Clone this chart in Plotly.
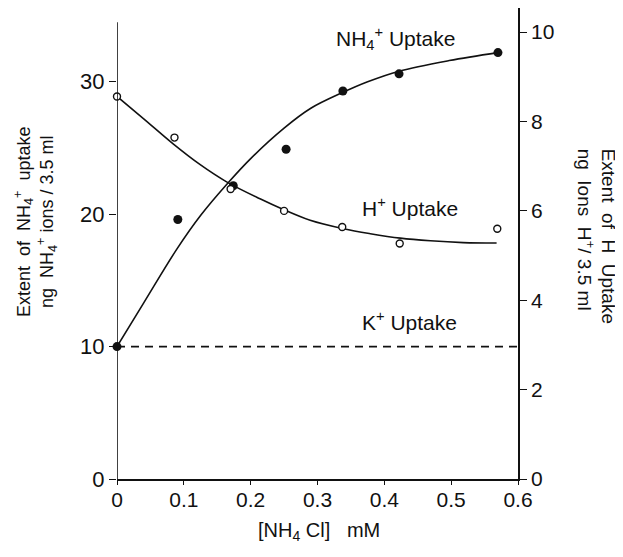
import plotly.graph_objects as go

# NH4+ uptake (left axis), filled circles
nh4_x = [0.0, 0.091, 0.174, 0.253, 0.338, 0.422, 0.570]
nh4_y = [10.0, 19.6, 22.15, 24.9, 29.3, 30.6, 32.2]
# smooth fitted curve for NH4+
nh4_curve_x = [0.0, 0.04, 0.09, 0.125, 0.165, 0.2, 0.25, 0.29, 0.338, 0.375, 0.422, 0.497, 0.570]
nh4_curve_y = [10.0, 13.3, 17.4, 19.9, 22.3, 24.2, 26.5, 28.0, 29.2, 30.0, 30.8, 31.6, 32.2]

# H+ uptake (right axis), open circles
h_x = [0.0, 0.086, 0.170, 0.250, 0.337, 0.423, 0.569]
h_y = [8.56, 7.64, 6.49, 6.0, 5.64, 5.27, 5.60]
h_curve_x = [0.0, 0.04, 0.084, 0.124, 0.164, 0.214, 0.249, 0.289, 0.339, 0.379, 0.424, 0.469, 0.518, 0.568]
h_curve_y = [8.56, 8.06, 7.50, 7.04, 6.65, 6.27, 6.03, 5.79, 5.60, 5.49, 5.39, 5.33, 5.29, 5.28]

# K+ uptake (left axis), dashed
k_x = [0.0, 0.6]
k_y = [10.0, 10.0]

x_ticks = [0, 0.1, 0.2, 0.3, 0.4, 0.5, 0.6]
x_labels = ["0", "0.1", "0.2", "0.3", "0.4", "0.5", "0.6"]
left_ticks = [0, 10, 20, 30]
right_ticks = [0, 2, 4, 6, 8, 10]

FONT = "Liberation Sans"
black = "#111111"

fig = go.Figure()
fig.add_trace(go.Scatter(x=k_x, y=k_y, mode="lines",
                         line=dict(color=black, width=1.6, dash="8px,6px"),
                         showlegend=False, yaxis="y"))
fig.add_trace(go.Scatter(x=nh4_curve_x, y=nh4_curve_y, mode="lines", line_shape="spline",
                         line=dict(color=black, width=1.6), showlegend=False, yaxis="y"))
fig.add_trace(go.Scatter(x=nh4_x, y=nh4_y, mode="markers",
                         marker=dict(size=9, color=black, symbol="circle"),
                         showlegend=False, yaxis="y", cliponaxis=False))
fig.add_trace(go.Scatter(x=h_curve_x, y=h_curve_y, mode="lines", line_shape="spline",
                         line=dict(color=black, width=1.6), showlegend=False, yaxis="y2"))
fig.add_trace(go.Scatter(x=h_x, y=h_y, mode="markers",
                         marker=dict(size=7, color="white", symbol="circle",
                                     line=dict(color=black, width=1.4)),
                         showlegend=False, yaxis="y2", cliponaxis=False))

fig.update_layout(
    width=623, height=557,
    margin=dict(l=109, r=113, t=0, b=86),
    paper_bgcolor="white", plot_bgcolor="white",
    font=dict(family=FONT, color=black, size=21),
    xaxis=dict(range=[0, 0.6], tickvals=x_ticks, ticktext=x_labels,
               showgrid=False, zeroline=False, showline=True, linecolor=black, linewidth=1.6,
               ticks="outside", ticklen=4, tickwidth=1.4, tickcolor=black,
               ticklabelstandoff=-3,
               tickfont=dict(size=21, family=FONT)),
    yaxis=dict(range=[0, 35.57], tickvals=left_ticks,
               showgrid=False, zeroline=False, showline=False,
               ticks="outside", ticklen=7, tickwidth=1.4, tickcolor=black,
               tickfont=dict(size=22, family=FONT)),
    yaxis2=dict(range=[0, 10.54], tickvals=right_ticks, overlaying="y", side="right",
                anchor="x", showgrid=False, zeroline=False, showline=True,
                linecolor=black, linewidth=1.6,
                ticks="outside", ticklen=7, tickwidth=1.4, tickcolor=black,
                tickfont=dict(size=21, family=FONT)),
    shapes=[dict(type="line", xref="x", yref="y", x0=0, x1=0, y0=0, y1=34.5,
                 line=dict(color=black, width=1.6))],
    annotations=[
        dict(text="NH<sub>4</sub><sup>+</sup> Uptake", x=0.416, y=33.3, xref="x", yref="y",
             xanchor="center", yanchor="middle",
             showarrow=False, font=dict(size=21, family=FONT)),
        dict(text="H<sup>+</sup> Uptake", x=0.4386, y=20.57, xref="x", yref="y",
             xanchor="center", yanchor="middle",
             showarrow=False, font=dict(size=21, family=FONT)),
        dict(text="K<sup>+</sup> Uptake", x=0.437, y=11.9, xref="x", yref="y",
             xanchor="center", yanchor="middle",
             showarrow=False, font=dict(size=21, family=FONT)),
        dict(text="[NH<sub>4</sub> Cl]&nbsp;&nbsp;&nbsp;mM", x=0.504, y=-0.1125,
             xref="paper", yref="paper", xanchor="center", yanchor="middle",
             showarrow=False, font=dict(size=20, family=FONT)),
        dict(text="Extent&nbsp;&nbsp;of&nbsp;&nbsp;NH<sub>4</sub><sup>+</sup>&nbsp;&nbsp;uptake<br>ng&nbsp;&nbsp;NH<sub>4</sub><sup>+</sup> ions / 3.5 ml",
             x=-0.2045, y=0.5456, xref="paper", yref="paper", textangle=-90,
             xanchor="center", yanchor="middle",
             showarrow=False, font=dict(size=18, family=FONT), align="center"),
        dict(text="Extent&nbsp;&nbsp;of&nbsp;&nbsp;H&nbsp;&nbsp;Uptake<br>ng&nbsp;&nbsp;Ions&nbsp;&nbsp;H<sup>+</sup>/ 3.5 ml",
             x=1.194, y=0.705, xref="paper", yref="paper", textangle=90,
             xanchor="center", yanchor="top",
             showarrow=False, font=dict(size=19, family=FONT), align="left"),
    ],
)

fig.write_html("out.html")
